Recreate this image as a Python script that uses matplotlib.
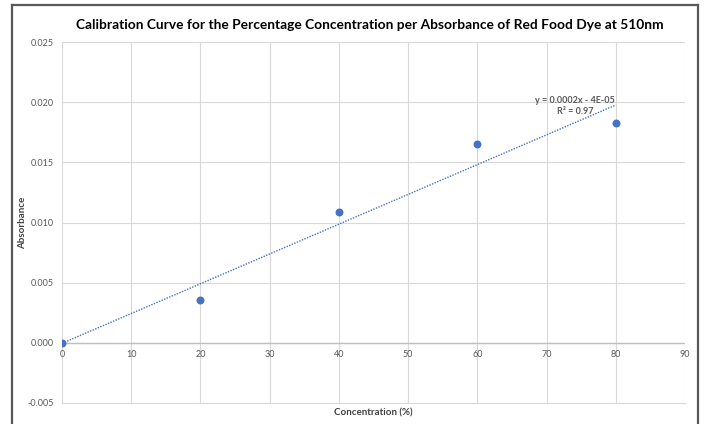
import numpy as np
import matplotlib
matplotlib.use("Agg")
import matplotlib.pyplot as plt

# data
concentration = [0, 20, 40, 60, 80]
absorbance = [0.0, 0.0036, 0.0109, 0.0165, 0.0183]
x_ticks = [0, 10, 20, 30, 40, 50, 60, 70, 80, 90]
y_ticks = [-0.005, 0.0, 0.005, 0.010, 0.015, 0.020, 0.025]

plt.rcParams['font.family'] = ['Lato', 'DejaVu Sans']

fig = plt.figure(figsize=(7.04, 4.24), dpi=100)
ax = fig.add_axes([62 / 704, 1 - 403 / 424, 623 / 704, 361 / 424])

# outer chart frame (open at the bottom like the screenshot)
frame_kw = dict(transform=fig.transFigure, color="#595959", lw=1.6)
fig.add_artist(plt.Line2D([12 / 704, 12 / 704], [0, 1 - 5 / 424], **frame_kw))
fig.add_artist(plt.Line2D([698 / 704, 698 / 704], [0, 1 - 5 / 424], **frame_kw))
fig.add_artist(plt.Line2D([12 / 704, 698 / 704], [1 - 5 / 424, 1 - 5 / 424], **frame_kw))

# linear trendline
slope, intercept = np.polyfit(concentration, absorbance, 1)
fit = np.polyval([slope, intercept], concentration)
ss_res = np.sum((np.array(absorbance) - fit) ** 2)
ss_tot = np.sum((np.array(absorbance) - np.mean(absorbance)) ** 2)
r2 = 1 - ss_res / ss_tot
xs = np.array([0, 80])
ax.plot(xs, slope * xs + intercept, ls=(0, (1, 1)), color="#4472C4", lw=1.0, zorder=3)

ax.scatter(concentration, absorbance, s=22, color="#4472C4", zorder=4)

ax.set_xlim(0, 90)
ax.set_ylim(-0.005, 0.025)
ax.set_xticks(x_ticks)
ax.set_yticks(y_ticks)
ax.set_yticklabels([f"{v:.3f}" for v in y_ticks])
ax.grid(True, color="#D9D9D9", lw=0.8)
ax.set_axisbelow(True)
for side in ["top", "right", "left"]:
    ax.spines[side].set_visible(False)
ax.spines["bottom"].set_color("#D9D9D9")
ax.axhline(0, color="#BFBFBF", lw=1.0, zorder=1)
ax.tick_params(length=0, labelsize=6.5, labelcolor="#595959", pad=6)

# x tick labels sit just under the zero line
ax.tick_params(axis="x", labelbottom=False)
for t in x_ticks:
    ax.text(t, -0.0006, str(t), ha="center", va="top", fontsize=6.5, color="#595959")

ax.set_xlabel("Concentration (%)", fontsize=7, fontweight="bold", color="#404040", labelpad=4)
ax.set_ylabel("Absorbance", fontsize=7, fontweight="bold", color="#404040")
ax.yaxis.set_label_coords(-0.056, 0.5)

ax.text(74.1, 0.02017, f"y = {slope:.4f}x - 4E-05", ha="center", va="center",
        fontsize=6.5, fontweight="bold", color="#595959")
ax.text(74.1, 0.01925, f"R² = {r2:.2f}", ha="center", va="center",
        fontsize=6.5, fontweight="bold", color="#595959")

fig.text(370 / 704, 1 - 25 / 424, "Calibration Curve for the Percentage Concentration per Absorbance of Red Food Dye at 510nm",
         ha="center", va="center", fontsize=9.95, fontweight="bold", color="#000000")

fig.savefig("out.png", dpi=100)
